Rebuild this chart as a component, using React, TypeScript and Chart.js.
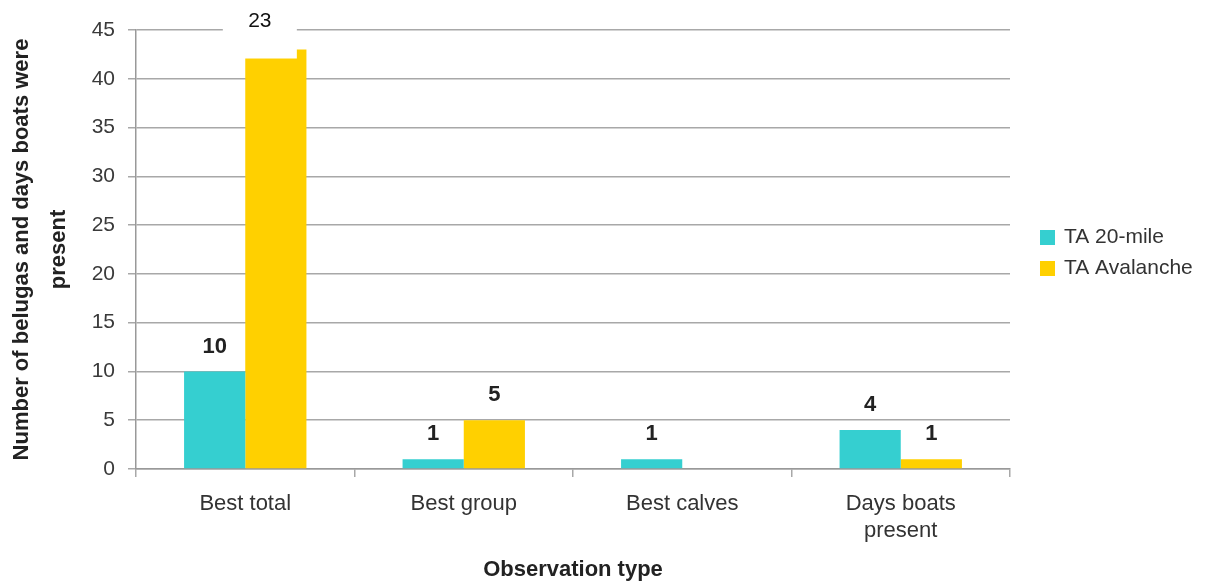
import React, { useEffect, useRef } from "react";
import { Chart, registerables } from "chart.js";

Chart.register(...registerables);

// ---- data ----
const categories: (string | string[])[] = ["Best total", "Best group", "Best calves", ["Days boats", "present"]];
const seriesNames = ["TA 20-mile", "TA Avalanche"];
const ta20Mile = [10, 1, 1, 4];
const taAvalanche = [43, 5, 0, 1];
const ta20MileLabels = ["10", "1", "1", "4"];
const taAvalancheLabels = ["23", "5", "", "1"];
const yMin = 0;
const yMax = 45;
const yStep = 5;
const yTitle = ["Number of belugas and days boats were", "present"];
const xTitle = "Observation type";

const CYAN = "#35CFD0";
const YELLOW = "#FFD000";
const GRID = "#a8a8a8";
const FONT = "'Liberation Sans', Arial, sans-serif";

const labelPlugin = {
  id: "barLabels",
  afterDatasetsDraw(chart: any) {
    const ctx = chart.ctx;
    const allLabels = [ta20MileLabels, taAvalancheLabels];
    chart.data.datasets.forEach((_ds: any, di: number) => {
      const meta = chart.getDatasetMeta(di);
      meta.data.forEach((bar: any, i: number) => {
        const t = allLabels[di][i];
        if (!t) return;
        ctx.save();
        if (di === 1 && i === 0) {
          // boxed label overlapping the bar top
          const left = bar.x - 53;
          const top = chart.chartArea.top - 30;
          const w = 74;
          const h = bar.y + 9 - top;
          ctx.fillStyle = "#ffffff";
          ctx.fillRect(left, top, w, h);
          ctx.fillStyle = "#111";
          ctx.font = `normal 21px ${FONT}`;
          ctx.textAlign = "center";
          ctx.textBaseline = "middle";
          ctx.fillText(t, left + w / 2, top + 21);
        } else {
          ctx.fillStyle = "#222";
          ctx.font = `bold 22px ${FONT}`;
          ctx.textAlign = "center";
          ctx.textBaseline = "middle";
          ctx.fillText(t, bar.x, bar.y - 25);
        }
        ctx.restore();
      });
    });
  },
};

const legendPlugin = {
  id: "sideLegend",
  afterDraw(chart: any) {
    const ctx = chart.ctx;
    const ca = chart.chartArea;
    const cy = (ca.top + ca.bottom) / 2;
    const x = ca.right + 30;
    chart.data.datasets.forEach((ds: any, i: number) => {
      const y = cy - 12 + i * 31;
      ctx.save();
      ctx.fillStyle = ds.backgroundColor;
      ctx.fillRect(x, y - 7.5, 15, 15);
      ctx.fillStyle = "#333";
      ctx.font = `normal 21px ${FONT}`;
      ctx.textAlign = "left";
      ctx.textBaseline = "middle";
      ctx.fillText(ds.label, x + 24, y);
      ctx.restore();
    });
  },
};

export default function App() {
  const canvasRef = useRef<HTMLCanvasElement | null>(null);

  useEffect(() => {
    if (!canvasRef.current) return;
    Chart.defaults.font.family = FONT;
    const chart = new Chart(canvasRef.current, {
      type: "bar",
      data: {
        labels: categories,
        datasets: [
          { label: seriesNames[0], data: ta20Mile, backgroundColor: CYAN, borderWidth: 0 },
          { label: seriesNames[1], data: taAvalanche, backgroundColor: YELLOW, borderWidth: 0 },
        ],
      },
      options: {
        responsive: false,
        animation: false,
        events: [],
        layout: { padding: { top: 30, right: 211, bottom: 0, left: 0 } },
        datasets: { bar: { categoryPercentage: 0.56, barPercentage: 1.0 } },
        plugins: {
          legend: { display: false },
          tooltip: { enabled: false },
        },
        scales: {
          x: {
            grid: { drawOnChartArea: false, drawTicks: true, tickLength: 8, color: GRID, lineWidth: 1.5, offset: true },
            border: { display: true, color: "#999", width: 1.5 },
            ticks: {
              color: "#333",
              font: { size: 22, lineHeight: 1.25 },
              padding: 13,
              maxRotation: 0,
              autoSkip: false,
            },
            title: {
              display: true,
              text: xTitle,
              color: "#222",
              font: { size: 22, weight: "bold", lineHeight: 1.2 },
              padding: { top: 0, bottom: 0 },
            },
            afterFit: (scale: any) => {
              scale.height = 114;
            },
          },
          y: {
            min: yMin,
            max: yMax,
            ticks: { stepSize: yStep, color: "#3a3a3a", font: { size: 21 }, padding: 13 },
            grid: { color: GRID, lineWidth: 1.5, tickLength: 8, drawTicks: true },
            border: { display: true, color: "#999", width: 1.5 },
            title: {
              display: true,
              text: yTitle,
              color: "#222",
              font: { size: 22, weight: "bold", lineHeight: 1.7 },
              padding: { top: 3, bottom: 0 },
            },
            afterFit: (scale: any) => {
              scale.width = 136;
            },
          },
        },
      },
      plugins: [labelPlugin, legendPlugin],
    } as any);
    return () => chart.destroy();
  }, []);

  return (
    <div style={{ position: "absolute", left: 0, top: 0, width: 1221, height: 583, background: "#fff" }}>
      <canvas ref={canvasRef} width={1221} height={583} style={{ display: "block" }} />
    </div>
  );
}
